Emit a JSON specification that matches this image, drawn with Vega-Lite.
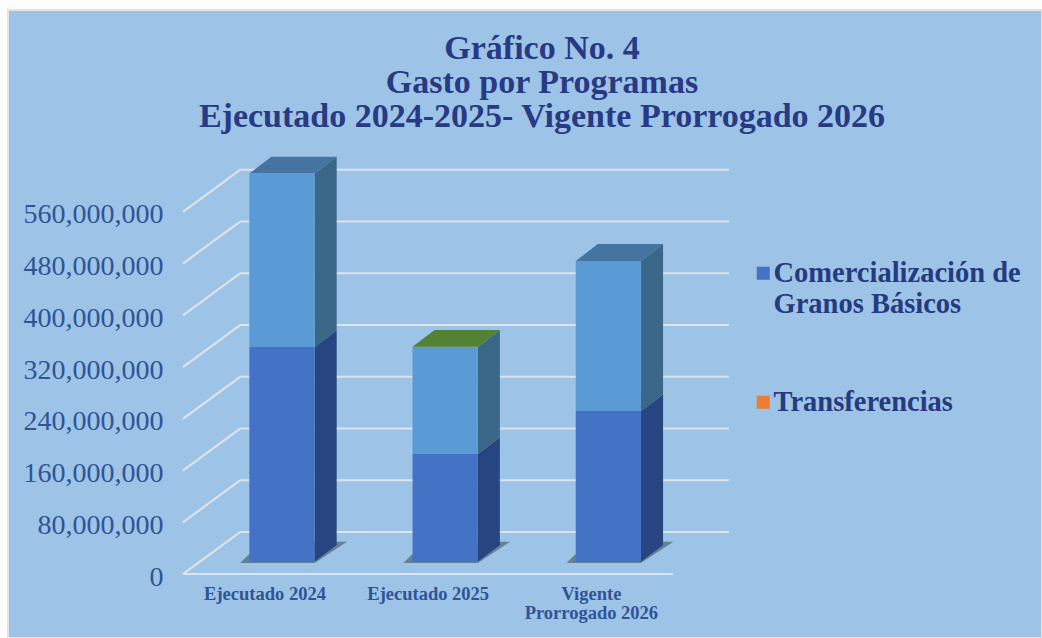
{
"$schema":"https://vega.github.io/schema/vega-lite/v6.json",
"autosize":{"type":"none"},
"padding":{"left":8,"top":10,"right":0,"bottom":0},
"width":1034,"height":628,
"background":"#fdfdfb",
"view":{"fill":"#9DC3E6","stroke":"#e2e4e8","strokeWidth":2},
"title":{"text":["Gráfico No. 4","Gasto por Programas","Ejecutado 2024-2025- Vigente Prorrogado 2026"],"font":"Liberation Serif","fontWeight":"bold","fontSize":34,"lineHeight":34,"color":"#283A83","anchor":"middle","frame":"group","dx":17,"baseline":"top","offset":-124},
"datasets":{
"barras":[
{"programa":"Ejecutado 2024","orden":1,"serie":"Comercialización de Granos Básicos","nivel":1,"valor":332000000},
{"programa":"Ejecutado 2024","orden":1,"serie":"Otros programas","nivel":2,"valor":268000000},
{"programa":"Ejecutado 2025","orden":2,"serie":"Comercialización de Granos Básicos","nivel":1,"valor":166500000},
{"programa":"Ejecutado 2025","orden":2,"serie":"Otros programas","nivel":2,"valor":165500000},
{"programa":"Ejecutado 2025","orden":2,"serie":"Otros menores","nivel":3,"valor":400000},
{"programa":"Vigente\nProrrogado  2026","orden":3,"serie":"Comercialización de Granos Básicos","nivel":1,"valor":233000000},
{"programa":"Vigente\nProrrogado  2026","orden":3,"serie":"Otros programas","nivel":2,"valor":232000000}
],
"rejilla":[{"valor":0},{"valor":80000000},{"valor":160000000},{"valor":240000000},{"valor":320000000},{"valor":400000000},{"valor":480000000},{"valor":560000000}]
},
"data":{"name":"barras"},
"layer":[
{"data":{"name":"rejilla"},"transform":[{"calculate":"datum.valor+64930000","as":"fondo"}],
 "mark":{"type":"rule","stroke":"#DCE3EC","strokeWidth":2.2},
 "encoding":{"x":{"datum":0.743,"type":"quantitative","scale":{"domain":[-0.679,5.657],"nice":false,"zero":false},"axis":null},"x2":{"datum":3.739},
 "y":{"field":"fondo","type":"quantitative","scale":{"domain":[-98900000,871900000],"nice":false,"zero":false}}}},
{"data":{"name":"rejilla"},"transform":[{"calculate":"datum.valor+64930000","as":"fondo"}],
 "mark":{"type":"rule","stroke":"#DCE3EC","strokeWidth":2.2},
 "encoding":{"x":{"datum":0.393,"type":"quantitative","scale":{"domain":[-0.679,5.657],"nice":false,"zero":false},"axis":null},"x2":{"datum":0.743},
 "y":{"field":"valor","type":"quantitative","scale":{"domain":[-98900000,871900000],"nice":false,"zero":false},
   "axis":{"orient":"left","offset":-155,"values":[0,80000000,160000000,240000000,320000000,400000000,480000000,560000000],"format":",.0f","domain":false,"ticks":false,"grid":false,"title":null,"labelFont":"Liberation Serif","labelFontSize":28,"labelColor":"#2F5597","labelPadding":0,"labelOffset":3}},
 "y2":{"field":"fondo"}}},
{"data":{"name":"rejilla"},"transform":[{"filter":"datum.valor==0"}],
 "mark":{"type":"rule","stroke":"#DCE3EC","strokeWidth":2.2},
 "encoding":{"x":{"datum":0.393,"type":"quantitative","scale":{"domain":[-0.679,5.657],"nice":false,"zero":false},"axis":null},"x2":{"datum":3.396},
 "y":{"field":"valor","type":"quantitative","scale":{"domain":[-98900000,871900000],"nice":false,"zero":false}}}},
{"transform":[{"filter":"datum.nivel==1"},{"calculate":"0","as":"a"},{"calculate":"1","as":"b"},{"fold":["a","b"],"as":["extremo","t"]},
  {"calculate":"datum.orden-0.257+datum.t*0.134","as":"xi"},{"calculate":"datum.orden+0.2+datum.t*0.198","as":"xf"},{"calculate":"17000000+datum.t*33000000","as":"yy"}],
 "mark":{"type":"area","orient":"horizontal","fill":"#3F5563","opacity":0.6},
 "encoding":{"y":{"field":"yy","type":"quantitative","scale":{"domain":[-98900000,871900000],"nice":false,"zero":false}},
  "x":{"field":"xi","type":"quantitative","scale":{"domain":[-0.679,5.657],"nice":false,"zero":false},"axis":null},"x2":{"field":"xf"},"detail":{"field":"programa"}}},
{"transform":[{"stack":"valor","groupby":["programa"],"sort":[{"field":"nivel","order":"ascending"}],"as":["inicio","fin"]},
  {"calculate":"0","as":"a"},{"calculate":"1","as":"b"},{"fold":["a","b"],"as":["extremo","t"]},
  {"calculate":"datum.orden+0.2+datum.t*0.135","as":"xs"},
  {"calculate":"datum.inicio+19000000+datum.t*26000000","as":"y0"},{"calculate":"datum.fin+19000000+datum.t*26000000","as":"y1"}],
 "mark":{"type":"area","orient":"vertical"},
 "encoding":{"x":{"field":"xs","type":"quantitative","scale":{"domain":[-0.679,5.657],"nice":false,"zero":false},"axis":null},
  "y":{"field":"y0","type":"quantitative","scale":{"domain":[-98900000,871900000],"nice":false,"zero":false}},"y2":{"field":"y1"},
  "detail":[{"field":"programa"}],
  "color":{"field":"serie","type":"nominal","legend":null,"scale":{"domain":["Comercialización de Granos Básicos","Otros programas","Otros menores"],"range":["#274580","#3A6688","#3A6688"]}}}},
{"transform":[{"stack":"valor","groupby":["programa"],"sort":[{"field":"nivel","order":"ascending"}],"as":["inicio","fin"]},
  {"joinaggregate":[{"op":"max","field":"fin","as":"tope"}],"groupby":["programa"]},{"filter":"datum.fin==datum.tope"},
  {"calculate":"0","as":"a"},{"calculate":"1","as":"b"},{"fold":["a","b"],"as":["extremo","t"]},
  {"calculate":"datum.orden-0.2+datum.t*0.135","as":"xi"},{"calculate":"datum.orden+0.2+datum.t*0.135","as":"xf"},
  {"calculate":"datum.fin+19000000+datum.t*26000000","as":"yy"}],
 "mark":{"type":"area","orient":"horizontal"},
 "encoding":{"y":{"field":"yy","type":"quantitative","scale":{"domain":[-98900000,871900000],"nice":false,"zero":false}},
  "x":{"field":"xi","type":"quantitative","scale":{"domain":[-0.679,5.657],"nice":false,"zero":false},"axis":null},"x2":{"field":"xf"},
  "detail":{"field":"programa"},
  "color":{"field":"serie","type":"nominal","legend":null,"scale":{"domain":["Otros programas","Otros menores"],"range":["#44749F","#548235"]}}}},
{"transform":[{"stack":"valor","groupby":["programa"],"sort":[{"field":"nivel","order":"ascending"}],"as":["inicio","fin"]},
  {"calculate":"datum.inicio+19000000","as":"y0"},{"calculate":"datum.fin+19000000","as":"y1"},
  {"calculate":"datum.orden-0.2","as":"xi"},{"calculate":"datum.orden+0.2","as":"xf"}],
 "mark":{"type":"bar"},
 "encoding":{"x":{"field":"xi","type":"quantitative","scale":{"domain":[-0.679,5.657],"nice":false,"zero":false},"axis":null},"x2":{"field":"xf"},
  "y":{"field":"y0","type":"quantitative","scale":{"domain":[-98900000,871900000],"nice":false,"zero":false}},"y2":{"field":"y1"},
  "color":{"field":"serie","type":"nominal","scale":{"domain":["Comercialización de Granos Básicos","Transferencias","Otros programas","Otros menores"],"range":["#4472C4","#ED7D31","#5B9BD5","#548235"]},
   "legend":{"title":null,"orient":"none","legendX":741,"legendY":249,"values":["Comercialización de Granos Básicos","Transferencias"],
     "labelExpr":"datum.label=='Transferencias' ? datum.label : ['Comercialización de','Granos Básicos']",
     "symbolType":"square","symbolSize":170,"symbolStrokeWidth":0,"labelFont":"Liberation Serif","labelFontWeight":"bold","labelFontSize":28.5,"labelColor":"#263A80","labelLimit":400,"rowPadding":69,"labelOffset":-4}}}},
{"transform":[{"filter":"datum.nivel==1"}],
 "mark":{"type":"text","font":"Liberation Serif","fontWeight":"bold","fontSize":18.5,"color":"#2F5597","baseline":"top","align":"center","dx":-17,"dy":11,"lineBreak":"\n","lineHeight":19},
 "encoding":{"x":{"field":"orden","type":"quantitative","scale":{"domain":[-0.679,5.657],"nice":false,"zero":false},"axis":null},
  "y":{"datum":0,"type":"quantitative","scale":{"domain":[-98900000,871900000],"nice":false,"zero":false}},
  "text":{"field":"programa"}}}
],
"resolve":{"scale":{"color":"independent"}}
}
